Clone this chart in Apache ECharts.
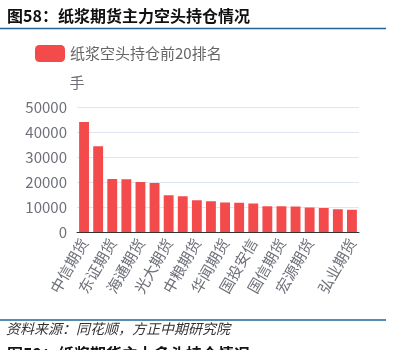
<!DOCTYPE html>
<html>
<head>
<meta charset="utf-8">
<script src="https://cdn.jsdelivr.net/npm/echarts@6/dist/echarts.min.js"></script>
<style>html,body{margin:0;padding:0;background:#fff;}#c{width:398px;height:350px;}</style>
</head>
<body>
<div id="c"></div>
<script>
var categories = ['中信期货','国泰君安','东证期货','永安期货','海通期货','银河期货','光大期货','华泰期货','中粮期货','方正中期','华闻期货','申银万国','国投安信','广发期货','国信期货','南华期货','宏源期货','五矿期货','浙商期货','弘业期货'];
var shortPositions = [44000,34300,21200,21100,20000,19600,14700,14300,12700,12300,11800,11700,11400,10300,10300,10200,9800,9600,9100,8900];
var yTicks = [0,10000,20000,30000,40000,50000];
var seriesName = '纸浆空头持仓前20排名';

var FONT = '"Noto Sans CJK SC", "Noto Sans", sans-serif';
var chart = echarts.init(document.getElementById('c'));
chart.setOption({
  animation: false,
  textStyle: {fontFamily: FONT},
  legend: {
    left: 30, top: 40, itemWidth: 30, itemHeight: 17, itemGap: 8,
    textStyle: {fontSize: 15, color: '#666', fontFamily: FONT},
    data: [seriesName]
  },
  grid: {left: 77, right: 39, top: 107, bottom: 118, containLabel: false},
  xAxis: {
    type: 'category', data: categories,
    axisLine: {lineStyle: {color: '#333'}},
    axisTick: {interval: 1, length: 5, lineStyle: {color: '#333'}},
    axisLabel: {
      rotate: 60, fontSize: 15, color: '#6e7079', margin: 8, fontFamily: FONT,
      interval: function (i) { return (i % 2 === 0 && i <= 16) || i === 19; }
    }
  },
  yAxis: {
    type: 'value', min: yTicks[0], max: yTicks[yTicks.length-1], interval: 10000,
    name: '手', nameGap: 17, nameTextStyle: {fontSize: 15, color: '#6e7079', fontFamily: FONT},
    axisLabel: {fontSize: 15, color: '#6e7079', margin: 10, fontFamily: FONT,
      formatter: function (v) { return String(v); }},
    splitLine: {lineStyle: {color: '#e0e6f1'}}
  },
  series: [{
    name: seriesName, type: 'bar', data: shortPositions,
    barCategoryGap: '30%',
    itemStyle: {color: '#f34b4b'}
  }],
  graphic: [
    {type: 'text', left: 7, top: 8, style: {text: '图58：纸浆期货主力空头持仓情况', font: 'bold 16px ' + FONT, fill: '#111'}},
    {type: 'line', shape: {x1: 0, y1: 28.5, x2: 386, y2: 28.5}, style: {stroke: '#1f6495', lineWidth: 1.5}},
    {type: 'line', shape: {x1: 0, y1: 320, x2: 386, y2: 320}, style: {stroke: '#1f6495', lineWidth: 1.5}},
    {type: 'text', left: 6, top: 322, style: {text: '资料来源：同花顺，方正中期研究院', font: 'italic 14px ' + FONT, fill: '#333'}},
    {type: 'text', left: 7, top: 346, style: {text: '图59：纸浆期货主力多头持仓情况', font: 'bold 16px ' + FONT, fill: '#111'}}
  ]
});
</script>
</body>
</html>
